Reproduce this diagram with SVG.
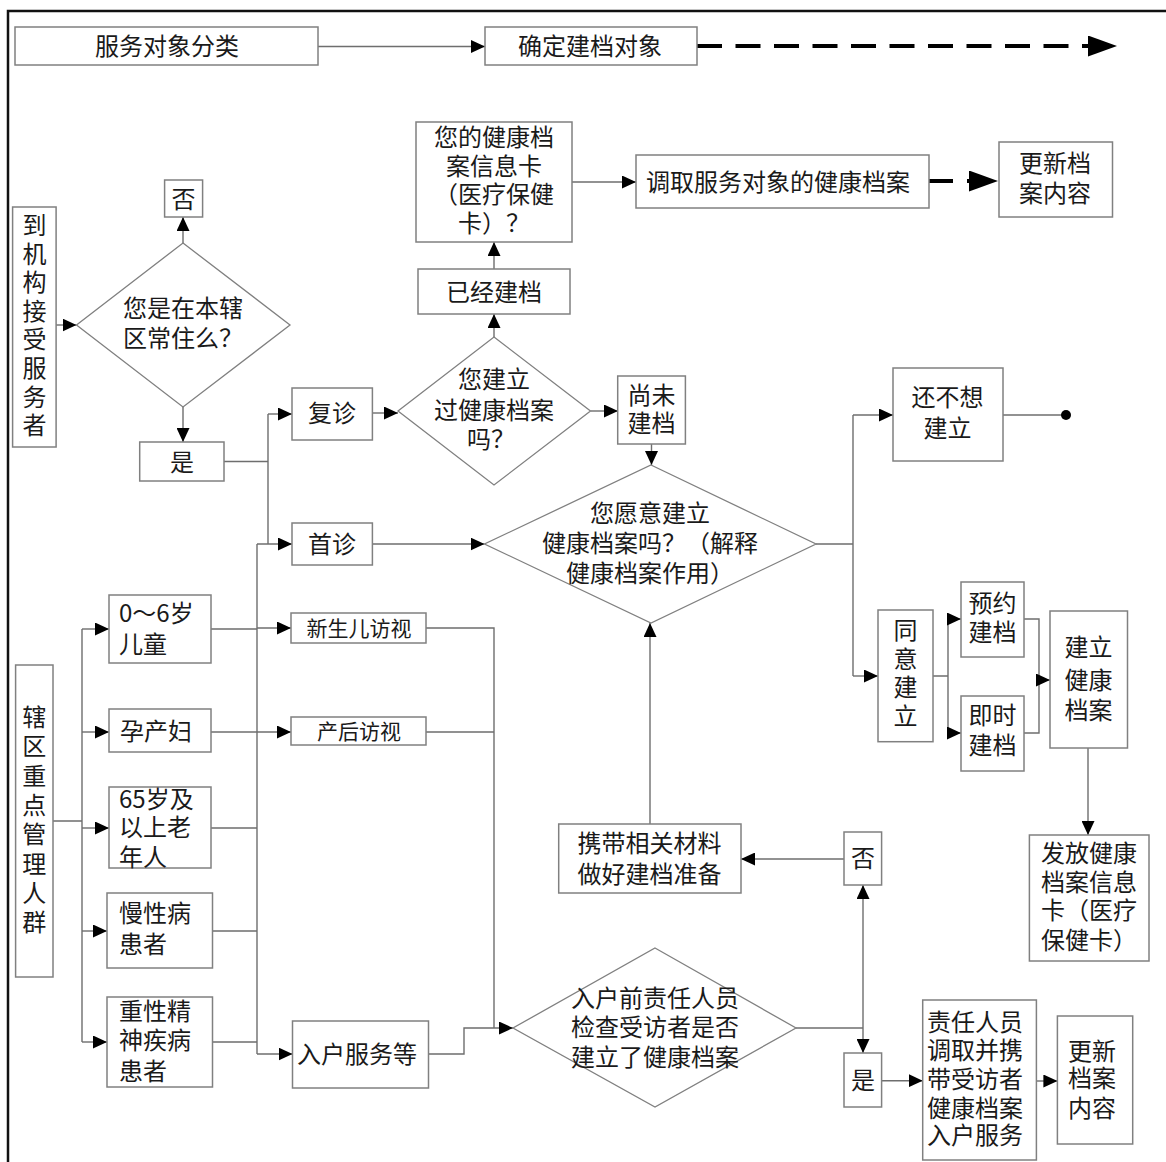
<svg xmlns="http://www.w3.org/2000/svg" width="1166" height="1162" viewBox="0 0 1166 1162">
<style>
.box{fill:#fff;stroke:#808080;stroke-width:1.5}
.dia{fill:#fff;stroke:#808080;stroke-width:1.3}
.ln{fill:none;stroke:#6e6e6e;stroke-width:1.4}
.dash{fill:none;stroke:#000;stroke-width:4}
text{font-family:"Noto Sans CJK SC","Noto Sans CJK JP",sans-serif;font-size:24px;fill:#1a1a1a;dominant-baseline:central}
.c{text-anchor:middle}
.s{text-anchor:start}
.sm{font-size:21px}
</style>
<defs>
<marker id="arr" viewBox="0 0 14 13" refX="14" refY="6.5" markerWidth="14" markerHeight="13" markerUnits="userSpaceOnUse" orient="auto"><path d="M0,0 L14,6.5 L0,13 Z" fill="#000"/></marker>
<marker id="arrBig" viewBox="0 0 29 21" refX="29" refY="10.5" markerWidth="29" markerHeight="21" markerUnits="userSpaceOnUse" orient="auto"><path d="M0,0 L29,10.5 L0,21 Z" fill="#000"/></marker>
</defs>
<rect width="1166" height="1162" fill="#fff"/>
<g id="frame">
<path d="M8,1162 V11 H1166" fill="none" stroke="#111" stroke-width="2.5"/>
</g>
<g id="connectors">
<path class="ln" d="M318,46.5 H485" marker-end="url(#arr)"/>
<path class="dash" d="M697,46 H1117" stroke-dasharray="25 13.5" marker-end="url(#arrBig)"/>
<path class="ln" d="M494,269 V242" marker-end="url(#arr)"/>
<path class="ln" d="M572,182 H636" marker-end="url(#arr)"/>
<path class="dash" d="M929,181 H998" stroke-dasharray="24 14" marker-end="url(#arrBig)"/>
<path class="ln" d="M183,243 V217" marker-end="url(#arr)"/>
<path class="ln" d="M56,325 H76.5" marker-end="url(#arr)"/>
<path class="ln" d="M183,407 V442" marker-end="url(#arr)"/>
<path class="ln" d="M224,461.5 H268 M268,414 V544"/>
<path class="ln" d="M268,414 H292" marker-end="url(#arr)"/>
<path class="ln" d="M257,544 H292" marker-end="url(#arr)"/>
<path class="ln" d="M372,413 H398" marker-end="url(#arr)"/>
<path class="ln" d="M494,337 V314" marker-end="url(#arr)"/>
<path class="ln" d="M590.5,411 H618" marker-end="url(#arr)"/>
<path class="ln" d="M651.5,444 V465" marker-end="url(#arr)"/>
<path class="ln" d="M372,544 H484.5" marker-end="url(#arr)"/>
<path class="ln" d="M816,544 H853 M853,415 V676"/>
<path class="ln" d="M853,415 H893" marker-end="url(#arr)"/>
<path class="ln" d="M853,676 H878" marker-end="url(#arr)"/>
<path class="ln" d="M1003,415 H1066"/>
<circle cx="1066" cy="415" r="5" fill="#000"/>
<path class="ln" d="M933,676 H948 M948,619 V733"/>
<path class="ln" d="M948,619 H961" marker-end="url(#arr)"/>
<path class="ln" d="M948,733 H961" marker-end="url(#arr)"/>
<path class="ln" d="M1024,619 H1039 V733 H1024"/>
<path class="ln" d="M1039,680 H1050" marker-end="url(#arr)"/>
<path class="ln" d="M1088,748 V835" marker-end="url(#arr)"/>
<path class="ln" d="M53,821 H82 M82,629 V1042"/>
<path class="ln" d="M82,629 H109" marker-end="url(#arr)"/>
<path class="ln" d="M82,732 H109" marker-end="url(#arr)"/>
<path class="ln" d="M82,828 H109" marker-end="url(#arr)"/>
<path class="ln" d="M82,931 H107" marker-end="url(#arr)"/>
<path class="ln" d="M82,1042 H107" marker-end="url(#arr)"/>
<path class="ln" d="M211,629 H257 M257,544 V1054 M211,828 H257 M212,931 H257 M212,1042 H257"/>
<path class="ln" d="M257,628 H291" marker-end="url(#arr)"/>
<path class="ln" d="M211,732 H291" marker-end="url(#arr)"/>
<path class="ln" d="M257,1054 H292.5" marker-end="url(#arr)"/>
<path class="ln" d="M426,628 H494 V1028 M426,732 H494"/>
<path class="ln" d="M428.5,1054 H464 V1028 H513" marker-end="url(#arr)"/>
<path class="ln" d="M650,824 V623" marker-end="url(#arr)"/>
<path class="ln" d="M796,1028 H863"/>
<path class="ln" d="M863,1028 V885" marker-end="url(#arr)"/>
<path class="ln" d="M863,1028 V1053" marker-end="url(#arr)"/>
<path class="ln" d="M844,859 H741" marker-end="url(#arr)"/>
<path class="ln" d="M881.6,1080.7 H922.7" marker-end="url(#arr)"/>
<path class="ln" d="M1036.4,1081 H1057.4" marker-end="url(#arr)"/>
</g>
<g id="n-fuwuduixiangfenlei"><rect class="box" x="15" y="27" width="303" height="38"/><text class="c" x="167" y="44">服务对象分类</text></g>
<g id="n-quedingjiandang"><rect class="box" x="485" y="27" width="212" height="38"/><text class="c" x="590" y="44">确定建档对象</text></g>
<g id="n-xinxika"><rect class="box" x="416" y="122" width="156" height="120"/><text class="c" x="494"><tspan x="494" y="135">您的健康档</tspan><tspan x="494" y="163.5">案信息卡</tspan><tspan x="494" y="192">（医疗保健</tspan><tspan x="494" y="220.5">卡）？</tspan></text></g>
<g id="n-yijingjiandang"><rect class="box" x="418" y="269" width="152" height="45"/><text class="c" x="494" y="290">已经建档</text></g>
<g id="n-diaoqu"><rect class="box" x="636" y="155" width="293" height="53"/><text class="c" x="778" y="180">调取服务对象的健康档案</text></g>
<g id="n-gengxin1"><rect class="box" x="999" y="142" width="113.5" height="75"/><text class="c"><tspan x="1055" y="161">更新档</tspan><tspan x="1055" y="191">案内容</tspan></text></g>
<g id="n-fou1"><rect class="box" x="164.6" y="180" width="38" height="37"/><text class="c" x="183.6" y="197">否</text></g>
<g id="n-changzhu"><polygon class="dia" points="183,243 290,325 183,407 76.5,325"/><text class="c"><tspan x="183" y="306">您是在本辖</tspan><tspan x="183" y="336">区常住么？</tspan></text></g>
<g id="n-daojigou"><rect class="box" x="12.6" y="207" width="43.5" height="240"/><text class="c"><tspan x="34.5" y="223">到</tspan><tspan x="34.5" y="251.6">机</tspan><tspan x="34.5" y="280.2">构</tspan><tspan x="34.5" y="308.8">接</tspan><tspan x="34.5" y="337.4">受</tspan><tspan x="34.5" y="366">服</tspan><tspan x="34.5" y="394.6">务</tspan><tspan x="34.5" y="423.2">者</tspan></text></g>
<g id="n-shi1"><rect class="box" x="139.7" y="442" width="84.3" height="39"/><text class="c" x="182" y="460">是</text></g>
<g id="n-fuzhen"><rect class="box" x="292" y="388" width="80.4" height="52"/><text class="c" x="332" y="411">复诊</text></g>
<g id="n-shouzhen"><rect class="box" x="292" y="523" width="80.4" height="42"/><text class="c" x="332" y="542">首诊</text></g>
<g id="n-jianliguo"><polygon class="dia" points="494,337 590.5,411 494,485 398,411"/><text class="c"><tspan x="494" y="377">您建立</tspan><tspan x="494" y="408">过健康档案</tspan><tspan x="491" y="437">吗？</tspan></text></g>
<g id="n-shangwei"><rect class="box" x="617.7" y="376" width="67.7" height="68"/><text class="c"><tspan x="651.5" y="393">尚未</tspan><tspan x="651.5" y="421">建档</tspan></text></g>
<g id="n-yuanyi"><polygon class="dia" points="651,465 816,544 651,623 484.5,544"/><text class="c"><tspan x="650" y="511">您愿意建立</tspan><tspan x="650" y="541">健康档案吗？（解释</tspan><tspan x="650" y="571">健康档案作用）</tspan></text></g>
<g id="n-huanbuxiang"><rect class="box" x="893" y="368" width="110" height="93"/><text class="c"><tspan x="947.5" y="395">还不想</tspan><tspan x="947.5" y="426">建立</tspan></text></g>
<g id="n-tongyi"><rect class="box" x="878" y="610" width="55" height="131.7"/><text class="c"><tspan x="905.5" y="628">同</tspan><tspan x="905.5" y="656.5">意</tspan><tspan x="905.5" y="685">建</tspan><tspan x="905.5" y="714">立</tspan></text></g>
<g id="n-yuyue"><rect class="box" x="961" y="582" width="63" height="75"/><text class="c"><tspan x="992.5" y="601">预约</tspan><tspan x="992.5" y="630">建档</tspan></text></g>
<g id="n-jishi"><rect class="box" x="961" y="696" width="63" height="75"/><text class="c"><tspan x="992.5" y="713">即时</tspan><tspan x="992.5" y="743">建档</tspan></text></g>
<g id="n-jianli"><rect class="box" x="1050" y="611" width="77.5" height="137"/><text class="c"><tspan x="1088.5" y="645">建立</tspan><tspan x="1088.5" y="678">健康</tspan><tspan x="1088.5" y="708">档案</tspan></text></g>
<g id="n-fafang"><rect class="box" x="1029.4" y="835" width="119.6" height="126"/><text class="c"><tspan x="1089" y="851">发放健康</tspan><tspan x="1089" y="880">档案信息</tspan><tspan x="1089" y="908">卡（医疗</tspan><tspan x="1089" y="938">保健卡）</tspan></text></g>
<g id="n-xiaqu"><rect class="box" x="15.6" y="665" width="37.4" height="312"/><text class="c"><tspan x="34.3" y="715">辖</tspan><tspan x="34.3" y="744.3">区</tspan><tspan x="34.3" y="773.6">重</tspan><tspan x="34.3" y="802.9">点</tspan><tspan x="34.3" y="832.2">管</tspan><tspan x="34.3" y="861.5">理</tspan><tspan x="34.3" y="890.8">人</tspan><tspan x="34.3" y="920">群</tspan></text></g>
<g id="n-ertong"><rect class="box" x="109" y="595" width="102" height="68"/><text class="s"><tspan x="119" y="611">0～6岁</tspan><tspan x="119" y="642">儿童</tspan></text></g>
<g id="n-yunchanfu"><rect class="box" x="109" y="709" width="102" height="43"/><text class="s" x="120" y="729">孕产妇</text></g>
<g id="n-laonian"><rect class="box" x="109" y="787" width="102" height="81"/><text class="s"><tspan x="119" y="797">65岁及</tspan><tspan x="119" y="825">以上老</tspan><tspan x="119" y="855">年人</tspan></text></g>
<g id="n-manxing"><rect class="box" x="107" y="893" width="105.5" height="75"/><text class="s"><tspan x="119" y="911">慢性病</tspan><tspan x="119" y="942">患者</tspan></text></g>
<g id="n-jingshen"><rect class="box" x="107" y="997" width="105.5" height="90"/><text class="s"><tspan x="119" y="1009">重性精</tspan><tspan x="119" y="1038">神疾病</tspan><tspan x="119" y="1069">患者</tspan></text></g>
<g id="n-xinshenger"><rect class="box" x="291" y="613" width="135" height="30"/><text class="c sm" x="359" y="626.5">新生儿访视</text></g>
<g id="n-chanhou"><rect class="box" x="291" y="717" width="135" height="28"/><text class="c sm" x="359" y="729.5">产后访视</text></g>
<g id="n-ruhu"><rect class="box" x="292.5" y="1021" width="136" height="67"/><text class="c" x="357" y="1052">入户服务等</text></g>
<g id="n-jiancha"><polygon class="dia" points="655,948 796,1028 655,1107 513,1028"/><text class="c"><tspan x="655" y="996">入户前责任人员</tspan><tspan x="655" y="1025">检查受访者是否</tspan><tspan x="655" y="1055">建立了健康档案</tspan></text></g>
<g id="n-fou2"><rect class="box" x="844" y="832" width="37.6" height="53"/><text class="c" x="863" y="856">否</text></g>
<g id="n-shi2"><rect class="box" x="844" y="1053" width="37.6" height="54"/><text class="c" x="863" y="1078">是</text></g>
<g id="n-xiedai"><rect class="box" x="558.7" y="824" width="182.3" height="69"/><text class="c"><tspan x="649.5" y="841">携带相关材料</tspan><tspan x="649.5" y="872">做好建档准备</tspan></text></g>
<g id="n-zeren"><rect class="box" x="922.7" y="1000" width="113.7" height="160"/><text class="c"><tspan x="975" y="1020">责任人员</tspan><tspan x="975" y="1048">调取并携</tspan><tspan x="975" y="1077">带受访者</tspan><tspan x="975" y="1106">健康档案</tspan><tspan x="975" y="1133">入户服务</tspan></text></g>
<g id="n-gengxin2"><rect class="box" x="1057.4" y="1016" width="75.3" height="128"/><text class="c"><tspan x="1092" y="1049">更新</tspan><tspan x="1092" y="1076">档案</tspan><tspan x="1092" y="1106">内容</tspan></text></g>
</svg>
